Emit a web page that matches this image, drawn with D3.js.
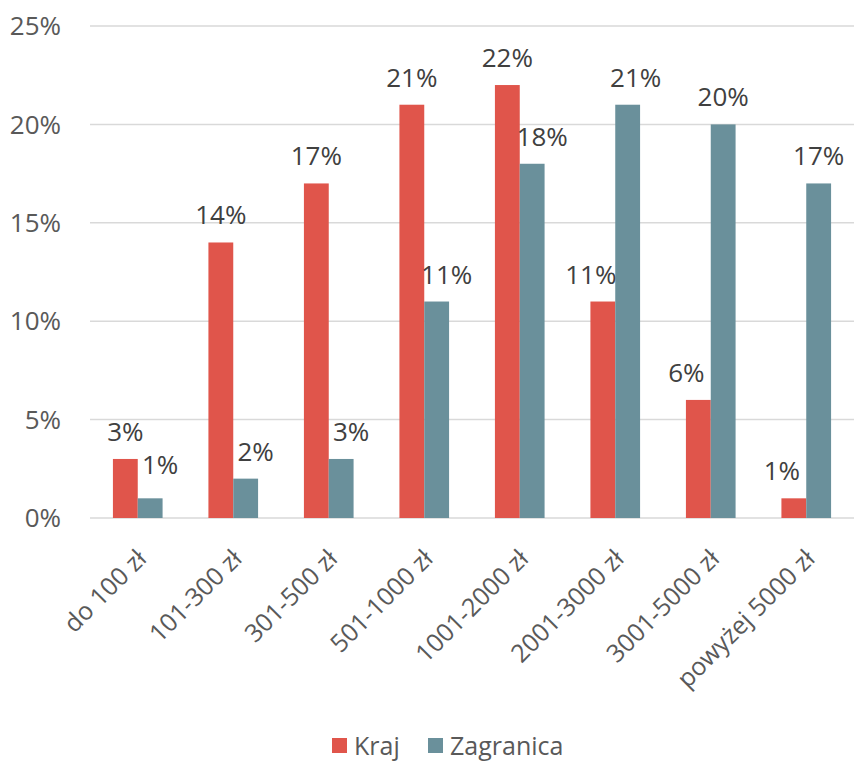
<!DOCTYPE html>
<html>
<head>
<meta charset="utf-8">
<script src="https://cdn.jsdelivr.net/npm/d3@7"></script>
<style>
  body { margin: 0; background: #fff; }
  text { font-family: "Open Sans", "Noto Sans", sans-serif; }
</style>
</head>
<body>
<div id="chart"></div>
<script>
// chart data
const categories = ["do 100 zł", "101-300 zł", "301-500 zł", "501-1000 zł", "1001-2000 zł", "2001-3000 zł", "3001-5000 zł", "powyżej 5000 zł"];
const seriesNames = ["Kraj", "Zagranica"];
const kraj = [3, 14, 17, 21, 22, 11, 6, 1];
const zagranica = [1, 2, 3, 11, 18, 21, 20, 17];
const yTicks = [0, 5, 10, 15, 20, 25];

const width = 856, height = 763;
const margin = { top: 26, right: 2, bottom: 245, left: 90 };
const colors = { "Kraj": "#E0554B", "Zagranica": "#6A909B" };

const svg = d3.select("#chart").append("svg")
    .attr("width", width)
    .attr("height", height);

const x = d3.scaleBand()
    .domain(categories)
    .range([margin.left, width - margin.right])
    .paddingInner(0.48)
    .paddingOuter(0.24);

const xs = d3.scaleBand()
    .domain(seriesNames)
    .range([0, x.bandwidth()]);

const y = d3.scaleLinear()
    .domain([0, 25])
    .range([height - margin.bottom, margin.top]);

// gridlines
svg.append("g")
    .selectAll("line")
    .data(yTicks)
    .enter()
    .append("line")
    .attr("x1", margin.left)
    .attr("x2", width - margin.right)
    .attr("y1", d => y(d))
    .attr("y2", d => y(d))
    .attr("stroke", "#D9D9D9")
    .attr("stroke-width", 1.5);

// y labels
svg.append("g")
    .selectAll("text")
    .data(yTicks)
    .enter()
    .append("text")
    .attr("x", 61)
    .attr("y", d => y(d))
    .attr("dy", "0.35em")
    .attr("text-anchor", "end")
    .attr("font-size", "26px")
    .attr("fill", "#595959")
    .text(d => d + "%");

const rows = categories.map((c, i) => ({ cat: c, Kraj: kraj[i], Zagranica: zagranica[i] }));

const groups = svg.append("g")
    .selectAll("g")
    .data(rows)
    .enter()
    .append("g")
    .attr("transform", d => `translate(${x(d.cat)},0)`);

groups.selectAll("rect")
    .data(d => seriesNames.map(s => ({ s, v: d[s] })))
    .enter()
    .append("rect")
    .attr("x", d => xs(d.s))
    .attr("width", xs.bandwidth())
    .attr("y", d => y(d.v))
    .attr("height", d => y(0) - y(d.v))
    .attr("fill", d => colors[d.s]);

// data labels, nudged sideways like Excel does when they collide
groups.selectAll("text")
    .data(d => seriesNames.map(s => ({ s, v: d[s], other: d[s === "Kraj" ? "Zagranica" : "Kraj"] })))
    .enter()
    .append("text")
    .attr("x", d => {
        let cx = xs(d.s) + xs.bandwidth() / 2;
        if (d.s === "Kraj" && d.v < d.other) cx -= 12;
        if (d.s === "Zagranica" && d.v < d.other) cx += 10;
        if (d.s === "Zagranica" && d.v > d.other && d.other > 8) cx += 8;
        return cx;
    })
    .attr("y", d => y(d.v) - (d.v < 2 && d.s === "Zagranica" ? 24 : 18))
    .attr("text-anchor", "middle")
    .attr("font-size", "26px")
    .attr("fill", "#404040")
    .text(d => d.v + "%");

// x labels
svg.append("g")
    .selectAll("text")
    .data(categories)
    .enter()
    .append("text")
    .attr("transform", d => `translate(${x(d) + x.bandwidth() / 2 + 4},${height - margin.bottom + 36}) rotate(-45)`)
    .attr("text-anchor", "end")
    .attr("dy", "0.35em")
    .attr("font-size", "25px")
    .attr("fill", "#595959")
    .text(d => d);

// legend
const legend = svg.append("g")
    .attr("transform", "translate(332,746)");

const legendX = [0, 96];
const items = legend.selectAll("g")
    .data(seriesNames)
    .enter()
    .append("g")
    .attr("transform", (d, i) => `translate(${legendX[i]},0)`);

items.append("rect")
    .attr("x", 0)
    .attr("y", -8)
    .attr("width", 15)
    .attr("height", 15)
    .attr("fill", d => colors[d]);

items.append("text")
    .attr("x", 22)
    .attr("y", 0)
    .attr("dy", "0.35em")
    .attr("font-size", "25px")
    .attr("fill", "#595959")
    .text(d => d);
</script>
</body>
</html>
